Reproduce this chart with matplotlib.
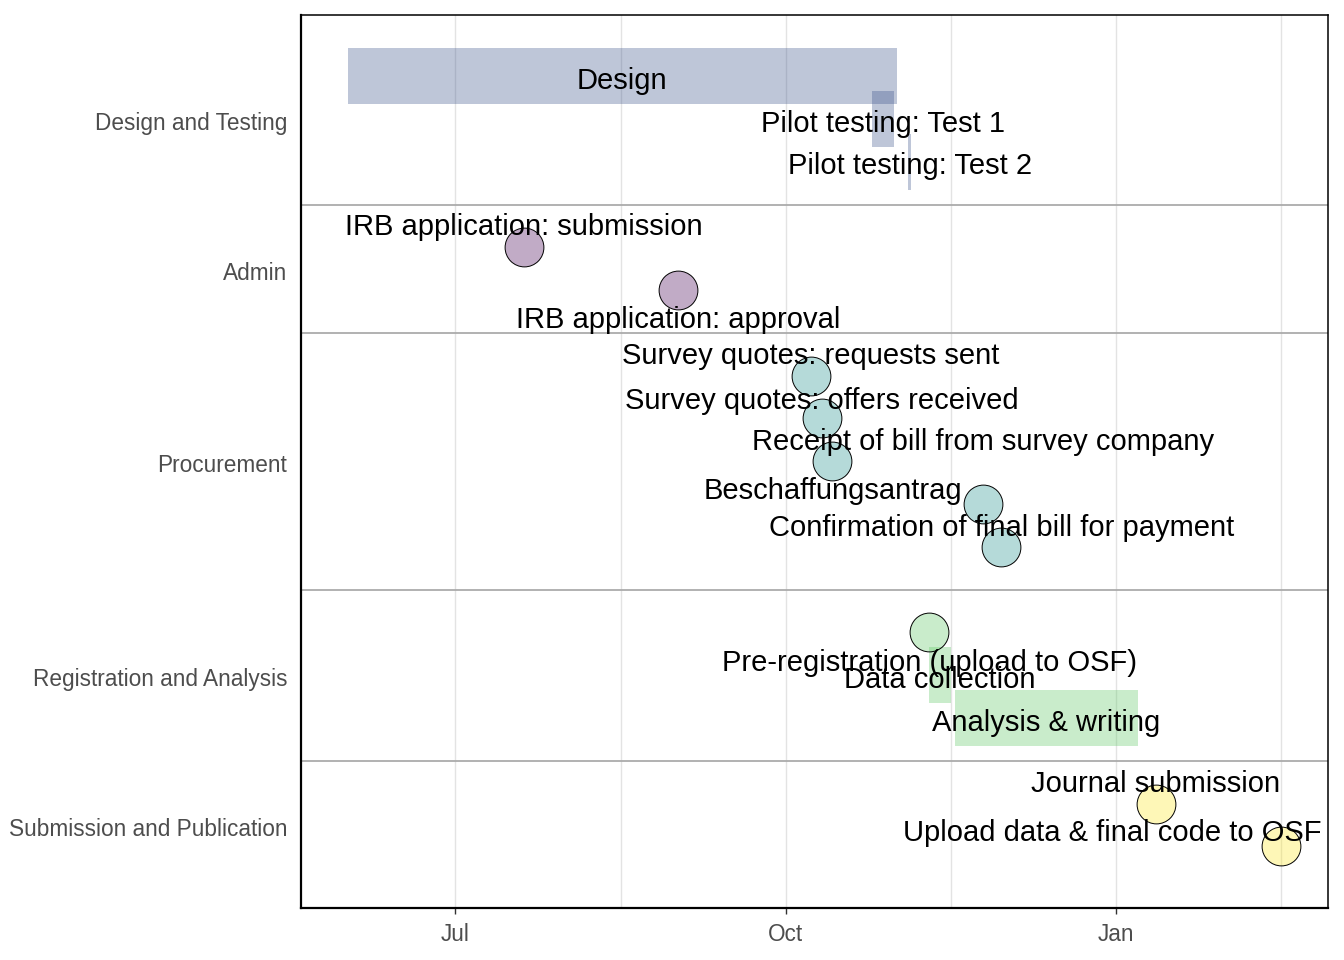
import matplotlib
matplotlib.use("Agg")
import matplotlib.pyplot as plt
import matplotlib.dates as mdates
import matplotlib.transforms as mtransforms
import numpy as np
import pandas as pd

# ---- data ----
events = ["Design", "Pilot testing: Test 1", "Pilot testing: Test 2",
          "IRB application: submission", "IRB application: approval",
          "Survey quotes: requests sent", "Survey quotes: offers received",
          "Receipt of bill from survey company", "Beschaffungsantrag",
          "Confirmation of final bill for payment",
          "Pre-registration (upload to OSF)", "Data collection", "Analysis & writing",
          "Journal submission", "Upload data & final code to OSF"]
groups = (["Design and Testing"] * 3 + ["Admin"] * 2 + ["Procurement"] * 5 +
          ["Registration and Analysis"] * 3 + ["Submission and Publication"] * 2)
starts = ["2022-06-01", "2022-10-25", "2022-11-04",
          "2022-07-20", "2022-09-01",
          "2022-10-08", "2022-10-11", "2022-10-14", "2022-11-25", "2022-11-30",
          "2022-11-10", "2022-11-10", "2022-11-17",
          "2023-01-12", "2023-02-16"]
ends = ["2022-11-01", "2022-10-31", "2022-11-05",
        None, None,
        None, None, None, None, None,
        None, "2022-11-16", "2023-01-07",
        None, None]
group_names = ["Design and Testing", "Admin", "Procurement",
               "Registration and Analysis", "Submission and Publication"]
group_colors = ["#3B528B", "#440154", "#21908C", "#5DC863", "#FDE725"]
tick_dates = ["2022-07-01", "2022-10-01", "2023-01-01"]
tick_labels = ["Jul", "Oct", "Jan"]

# ---- label layout (repelled label placement) ----
label_x_override = {"Receipt of bill from survey company": "2022-11-25",
                    "Beschaffungsantrag": "2022-10-14",
                    "Upload data & final code to OSF": "2022-12-31"}
label_dy = [0.05, 0.05, 0.05, -0.54, 0.63, -0.53, -0.47, -0.51, -0.37, -0.50,
            0.65, 0.05, 0.05, -0.52, -0.37]
label_shift = 0.06

plt.rcParams["font.family"] = ["Liberation Sans", "DejaVu Sans"]

fig = plt.figure(figsize=(13.44, 9.6), dpi=100)
ax = fig.add_axes([301 / 1344, 1 - 908 / 960, (1328 - 301) / 1344, (908 - 15) / 960])

gidx = [group_names.index(g) for g in groups]
rows = [i + g for i, g in enumerate(gidx)]
alpha = 0.33

for i, ev in enumerate(events):
    col = group_colors[gidx[i]]
    s = mdates.date2num(pd.Timestamp(starts[i]))
    if ends[i] is not None:
        e = mdates.date2num(pd.Timestamp(ends[i]))
        ax.barh(rows[i], e - s, left=s, height=1.31, color=col, alpha=alpha,
                linewidth=0, zorder=2)
        cx = (s + e) / 2
    else:
        ax.scatter([s], [rows[i]], s=780, facecolor=matplotlib.colors.to_rgba(col, alpha),
                   edgecolor="black", linewidth=0.7, zorder=3)
        cx = s
    if ev in label_x_override:
        cx = mdates.date2num(pd.Timestamp(label_x_override[ev]))
    ax.text(cx, rows[i] + label_dy[i] + label_shift, ev, ha="center", va="center",
            fontsize=21.0, color="black", zorder=5)

# group separators
group_rows = {}
for r, g in zip(rows, gidx):
    group_rows.setdefault(g, []).append(r)
for g in range(1, len(group_names)):
    sep = min(group_rows[g]) - 1
    ax.axhline(sep, color="#ABABAB", linewidth=1.3, zorder=1)

# axes scales
xmin = mdates.date2num(pd.Timestamp("2022-05-19"))
xmax = mdates.date2num(pd.Timestamp("2023-03-01"))
ax.set_xlim(xmin, xmax)
ax.set_ylim(max(rows) + 1.44, -1.43)

majors = [mdates.date2num(pd.Timestamp(d)) for d in tick_dates]
ax.set_xticks(majors)
ax.set_xticklabels(tick_labels)
step = majors[1] - majors[0]
minors = [m + step / 2 for m in majors] + [majors[0] - step / 2]
for v in majors + minors:
    if xmin < v < xmax:
        ax.axvline(v, color="#E3E3E3", linewidth=1.0, zorder=0)

centers = [np.mean(group_rows[g]) for g in range(len(group_names))]
ax.set_yticks(centers)
ax.set_yticklabels(group_names)

ax.tick_params(axis="y", length=0, pad=10, labelsize=16.3, labelcolor="#4D4D4D")
ax.tick_params(axis="x", length=4, width=1, color="#333333", pad=6.5,
               labelsize=16.3, labelcolor="#4D4D4D")
off = mtransforms.ScaledTranslation(0, -2 / 100, fig.dpi_scale_trans)
for lab in ax.get_yticklabels():
    lab.set_transform(lab.get_transform() + off)
for side in ["left", "bottom"]:
    ax.spines[side].set_linewidth(1.6)
for side in ["top", "right"]:
    ax.spines[side].set_linewidth(1.1)
for sp in ax.spines.values():
    sp.set_color("black")
    sp.set_zorder(6)

fig.savefig("out.png", dpi=100)
